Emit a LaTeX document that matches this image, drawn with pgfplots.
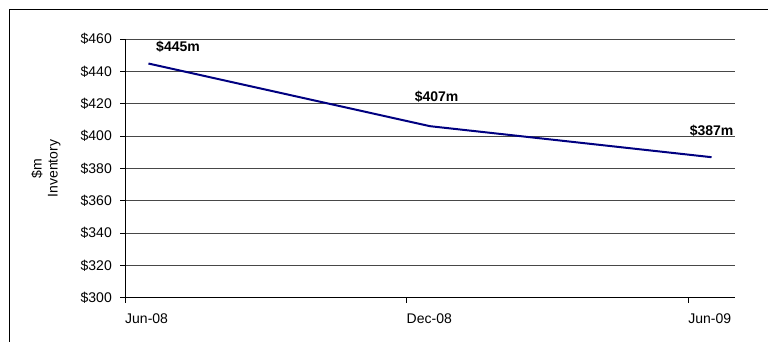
\documentclass[border=0pt]{standalone}
\usepackage{pgfplots}
\pgfplotsset{compat=1.18}
\usepackage{fontspec}
\setmainfont{Liberation Sans}
\definecolor{navyline}{RGB}{0,0,128}
\begin{document}
\begin{tikzpicture}
\path[use as bounding box] (0,0) rectangle (768bp,342bp);
\draw[line width=1bp] (9bp,-2bp) -- (9bp,332bp) -- (770bp,332bp);
\begin{axis}[
  at={(125bp,44.3bp)}, anchor=south west,
  scale only axis, width=610bp, height=258.4bp,
  xmin=0, xmax=13, ymin=300, ymax=460,
  axis lines*=left,
  axis line style={-, black, line width=0.9bp},
  ytick={300,320,...,460},
  xtick={0,6,12},
  xticklabels={Jun-08,Dec-08,Jun-09},
  yticklabel={\$\pgfmathprintnumber{\tick}},
  /pgf/number format/assume math mode=true,
  tick align=outside,
  major tick length=5bp,
  tick style={black, line width=0.8bp},
  ymajorgrids,
  grid style={black!72, line width=0.8bp},
  tick label style={font=\fontsize{14bp}{16bp}\selectfont},
  xticklabel style={anchor=north west, inner sep=0pt, yshift=-11bp},
  yticklabel style={anchor=east, inner sep=0pt, xshift=-8bp},
  ylabel={\$m\\Inventory},
  ylabel style={align=center, font=\fontsize{14bp}{16bp}\selectfont, at={(axis description cs:-0.1295,0.5)}, anchor=center, rotate=0},
  clip=false,
]
\addplot[color=navyline, line width=2bp, mark=none] coordinates {(0.5,445) (6.5,406.2) (12.5,387)};
\node[font=\bfseries\fontsize{14bp}{16bp}\selectfont] at (axis cs:1.13,455.2) {\$445m};
\node[font=\bfseries\fontsize{14bp}{16bp}\selectfont] at (axis cs:6.64,424.5) {\$407m};
\node[font=\bfseries\fontsize{14bp}{16bp}\selectfont] at (axis cs:12.5,403.6) {\$387m};
\end{axis}
\end{tikzpicture}
\end{document}
